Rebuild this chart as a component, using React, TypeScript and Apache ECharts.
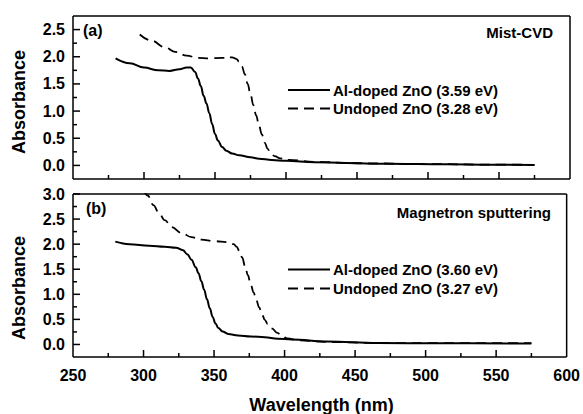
import React, { useEffect, useRef } from "react";
import * as echarts from "echarts";

const FONT = "'Liberation Sans', Arial, Helvetica, sans-serif";

// x axis
const X_MIN = 250;
const X_MAX = 600;
const X_STEP = 50;
const xMajorTicks = [300, 350, 400, 450, 500, 550];
const xMinorTicks = [275, 325, 375, 425, 475, 525, 575];

// y axes
const Y_MIN = -0.25;
const Y_STEP = 0.25;
const topYMax = 2.75;
const bottomYMax = 3.0;
const topLabels = [0, 0.5, 1.0, 1.5, 2.0, 2.5];
const topMinorTicks = [0.25, 0.75, 1.25, 1.75, 2.25];
const bottomLabels = [0, 0.5, 1.0, 1.5, 2.0, 2.5, 3.0];
const bottomMinorTicks = [0.25, 0.75, 1.25, 1.75, 2.25, 2.75];

// series names
const mistAlName = "Al-doped ZnO (3.59 eV)";
const mistUnName = "Undoped ZnO (3.28 eV)";
const magAlName = "Al-doped ZnO (3.60 eV)";
const magUnName = "Undoped ZnO (3.27 eV)";

// (a) Mist-CVD, Al-doped: [wavelength nm, absorbance]
const mistAlDoped = [
  [280, 1.97], [290, 1.88], [300, 1.8], [310, 1.75], [318, 1.74], [325, 1.77],
  [330, 1.8], [333, 1.8], [336, 1.72], [338, 1.6], [340, 1.46], [342, 1.28],
  [344, 1.14], [346, 0.96], [348, 0.76], [350, 0.58], [352, 0.46], [355, 0.34],
  [358, 0.27], [362, 0.22], [367, 0.185], [375, 0.15], [381, 0.125], [390, 0.1],
  [400, 0.085], [420, 0.06], [442, 0.045], [470, 0.03], [513, 0.02], [545, 0.013],
  [575, 0.008],
];

// (a) Mist-CVD, undoped
const mistUndoped = [
  [297, 2.41], [305, 2.3], [315, 2.17], [322, 2.09], [330, 2.02], [338, 1.98],
  [346, 1.97], [355, 1.98], [362, 1.99], [365, 1.96], [367, 1.91], [369, 1.82],
  [371, 1.68], [373, 1.5], [375, 1.31], [377, 1.11], [379, 0.92], [381, 0.73],
  [383, 0.57], [385, 0.42], [387, 0.31], [389, 0.23], [392, 0.17], [396, 0.13],
  [402, 0.1], [420, 0.065], [450, 0.04], [500, 0.025], [540, 0.015], [575, 0.01],
];

// (b) Magnetron sputtering, Al-doped
const magAlDoped = [
  [280, 2.05], [290, 2.0], [304, 1.97], [315, 1.95], [323, 1.93], [328, 1.88],
  [331, 1.8], [334, 1.69], [337, 1.54], [339, 1.42], [341, 1.26], [343, 1.09],
  [345, 0.9], [347, 0.72], [349, 0.55], [351, 0.42], [353, 0.33], [356, 0.26],
  [360, 0.21], [367, 0.18], [376, 0.16], [386, 0.145], [395, 0.115], [405, 0.1],
  [430, 0.06], [466, 0.03], [510, 0.022], [575, 0.02],
];

// (b) Magnetron sputtering, undoped
const magUndoped = [
  [300, 3.08], [303, 2.97], [307, 2.78], [311, 2.62], [315, 2.48], [320, 2.34],
  [327, 2.22], [334, 2.14], [341, 2.09], [350, 2.06], [360, 2.04], [364, 2.0],
  [366, 1.95], [368, 1.86], [370, 1.73], [372, 1.56], [374, 1.38], [376, 1.2],
  [378, 1.04], [380, 0.88], [382, 0.74], [384, 0.6], [386, 0.49], [388, 0.41],
  [391, 0.32], [395, 0.23], [398, 0.17], [402, 0.12], [410, 0.08], [430, 0.05],
  [466, 0.03], [500, 0.025], [575, 0.025],
];

const BLACK = "#000";
const DASH = [10, 6];

// layout
const GRID_LEFT = 73;
const GRID_W = 497;
const GRID_H = 163;
const GRID_TOPS = [16, 194];

function xMain(gridIndex: number, showLabels: boolean) {
  return {
    type: "value",
    gridIndex,
    position: "bottom",
    min: X_MIN,
    max: X_MAX,
    interval: X_STEP,
    axisLine: { show: false, onZero: false },
    axisTick: { show: false },
    splitLine: { show: false },
    axisLabel: {
      show: showLabels,
      color: BLACK,
      fontSize: 16,
      fontWeight: "bold",
      fontFamily: FONT,
      margin: 10,
    },
  };
}

function yMain(gridIndex: number, max: number, labels: number[]) {
  return {
    type: "value",
    gridIndex,
    position: "left",
    min: Y_MIN,
    max,
    interval: Y_STEP,
    axisLine: { show: false, onZero: false },
    axisTick: { show: false },
    splitLine: { show: false },
    axisLabel: {
      show: true,
      customValues: labels,
      formatter: (v: number) => v.toFixed(1),
      color: BLACK,
      fontSize: 16,
      fontWeight: "bold",
      fontFamily: FONT,
      margin: 8,
    },
  };
}

function lineSeries(name: string, data: number[][], xi: number, yi: number, dashed: boolean) {
  return {
    type: "line",
    name,
    data,
    xAxisIndex: xi,
    yAxisIndex: yi,
    symbol: "none",
    smooth: 0.4,
    smoothMonotone: "x",
    lineStyle: {
      color: BLACK,
      width: dashed ? 1.8 : 2,
      type: dashed ? DASH : "solid",
    },
  };
}

function label(text: string, x: number, y: number, align: string, size: number) {
  return {
    type: "text",
    x,
    y,
    z: 100,
    style: {
      text,
      fill: BLACK,
      fontSize: size,
      fontWeight: "bold",
      fontFamily: FONT,
      align,
      verticalAlign: "middle",
    },
  };
}

function seg(x1: number, y1: number, x2: number, y2: number, dashed = false, width = 1.5) {
  return {
    type: "line",
    z: 100,
    shape: { x1, y1, x2, y2 },
    style: { stroke: BLACK, lineWidth: width, lineDash: dashed ? DASH : null },
  };
}

function yTitle(y: number) {
  return {
    type: "text",
    x: 19,
    y,
    z: 100,
    rotation: Math.PI / 2,
    style: {
      text: "Absorbance",
      fill: BLACK,
      fontSize: 18,
      fontWeight: "bold",
      fontFamily: FONT,
      align: "center",
      verticalAlign: "middle",
    },
  };
}

export default function App() {
  const ref = useRef<HTMLDivElement>(null);

  useEffect(() => {
    if (!ref.current) return;
    const chart = echarts.init(ref.current, undefined, { renderer: "svg" });
    chart.setOption({
      animation: false,
      grid: GRID_TOPS.map((top) => ({ left: GRID_LEFT, top, width: GRID_W, height: GRID_H })),
      xAxis: [xMain(0, false), xMain(1, true)],
      yAxis: [yMain(0, topYMax, topLabels), yMain(1, bottomYMax, bottomLabels)],
      series: [
        lineSeries(mistAlName, mistAlDoped, 0, 0, false),
        lineSeries(mistUnName, mistUndoped, 0, 0, true),
        lineSeries(magAlName, magAlDoped, 1, 1, false),
        lineSeries(magUnName, magUndoped, 1, 1, true),
      ],
    });

    // frame and inward ticks
    const deco: any[] = [];
    const panels = [
      { g: 0, yMax: topYMax, major: topLabels, minor: topMinorTicks },
      { g: 1, yMax: bottomYMax, major: bottomLabels, minor: bottomMinorTicks },
    ];
    panels.forEach(({ g, yMax, major, minor }) => {
      const top = GRID_TOPS[g];
      const toPx = (x: number, y: number): number[] => {
        let p: any = null;
        try {
          p = chart.convertToPixel({ xAxisIndex: g, yAxisIndex: g } as any, [x, y]);
        } catch (e) {
          p = null;
        }
        if (p && isFinite(p[0]) && isFinite(p[1])) return p as number[];
        return [
          GRID_LEFT + ((x - X_MIN) / (X_MAX - X_MIN)) * GRID_W,
          top + GRID_H - ((y - Y_MIN) / (yMax - Y_MIN)) * GRID_H,
        ];
      };
      const [l, b] = toPx(X_MIN, Y_MIN);
      const [r, t] = toPx(X_MAX, yMax);
      deco.push(seg(l, t, r, t));
      deco.push(seg(l, b, r, b));
      deco.push(seg(l, t, l, b));
      deco.push(seg(r, t, r, b));
      xMajorTicks.forEach((v) => {
        const px = toPx(v, Y_MIN)[0];
        deco.push(seg(px, b, px, b - 7));
      });
      xMinorTicks.forEach((v) => {
        const px = toPx(v, Y_MIN)[0];
        deco.push(seg(px, b, px, b - 4));
      });
      major.forEach((v) => {
        const py = toPx(X_MIN, v)[1];
        deco.push(seg(l, py, l + 7, py));
      });
      minor.forEach((v) => {
        const py = toPx(X_MIN, v)[1];
        deco.push(seg(l, py, l + 4, py));
      });
    });

    chart.setOption({
      graphic: [
        label("(a)", 83, 30, "left", 16),
        label("(b)", 86, 208, "left", 16),
        label("Mist-CVD", 553, 32, "right", 15),
        label("Magnetron sputtering", 551, 212, "right", 15),
        seg(288, 90, 330, 90, false, 2),
        label(mistAlName, 333, 90, "left", 15),
        seg(288, 108.5, 330, 108.5, true, 1.8),
        label(mistUnName, 333, 108.5, "left", 15),
        seg(288, 269.5, 330, 269.5, false, 2),
        label(magAlName, 333, 269.5, "left", 15),
        seg(288, 288.5, 330, 288.5, true, 1.8),
        label(magUnName, 333, 288.5, "left", 15),
        label("Wavelength (nm)", 321.5, 405, "center", 18),
        yTitle(102),
        yTitle(288),
        ...deco,
      ],
    });
    return () => chart.dispose();
  }, []);

  return (
    <div
      ref={ref}
      style={{ position: "fixed", left: 0, top: 0, width: 583, height: 414, background: "#fff" }}
    />
  );
}
